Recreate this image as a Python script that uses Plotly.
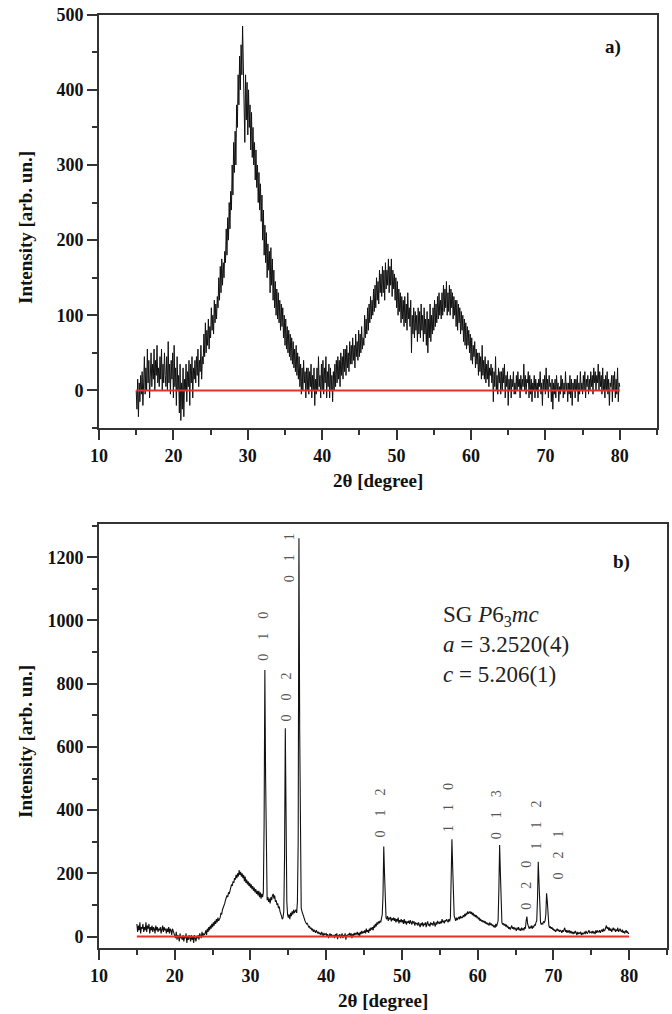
import numpy as np
import plotly.graph_objects as go

# ---------------- data ----------------
# 2theta grid (degrees), 0.1 degree steps from 15 to 80
two_theta = np.round(np.linspace(15.0, 80.0, 651), 1)

# panel a) intensity (arb. un.), one row per degree (15.0, 15.1, ... 15.9)
intensity_a = [
    0, -25, 15, -35, 10, -15, 20, -5, 25, -20,
    10, 45, -5, 30, 0, 55, 10, 40, -10, 25,
    50, 5, 35, 15, 55, 0, 40, 20, 60, 10,
    30, 5, 45, 15, 55, 0, 35, 10, 50, 20,
    5, 45, 0, 65, 10, 35, -5, 40, 15, 50,
    -10, 60, 5, 30, -20, 45, 0, 20, -30, 35,
    -40, 10, -25, 30, -35, 15, 0, 35, -15, 25,
    5, 40, -20, 35, 10, 45, -10, 30, 15, 40,
    10, 45, 20, 55, 5, 40, 25, 60, 15, 45,
    35, 75, 45, 90, 50, 80, 60, 95, 55, 85,
    70, 110, 80, 100, 75, 120, 90, 115, 95, 125,
    110, 150, 120, 165, 130, 175, 140, 170, 150, 185,
    170, 215, 180, 230, 200, 250, 215, 265, 240, 300,
    260, 330, 290, 345, 300, 380, 350, 420, 380, 445,
    400, 460, 420, 485, 430, 380, 330, 420, 360, 410,
    340, 400, 350, 380, 320, 370, 310, 350, 300, 330,
    280, 320, 270, 300, 250, 290, 240, 275, 225, 260,
    200, 240, 180, 220, 170, 210, 150, 195, 160, 185,
    130, 190, 140, 175, 120, 160, 110, 145, 100, 135,
    95, 130, 90, 120, 80, 115, 85, 110, 70, 100,
    60, 95, 55, 85, 50, 80, 45, 75, 40, 70,
    35, 65, 30, 55, 25, 60, 20, 50, 15, 45,
    5, 35, -5, 30, 0, 40, 10, 25, -10, 30,
    0, 30, -5, 25, 5, 35, -10, 20, 0, 30,
    -20, 15, -5, 30, 0, 45, 5, 20, -10, 35,
    0, 40, -5, 30, 10, 45, -10, 25, 5, 35,
    -10, 30, 0, 20, -15, 25, 0, 35, 5, 40,
    10, 45, 15, 40, 5, 50, 20, 45, 15, 55,
    25, 55, 20, 60, 30, 50, 25, 65, 35, 60,
    35, 70, 40, 60, 30, 75, 45, 65, 40, 80,
    45, 75, 50, 85, 55, 70, 60, 100, 70, 95,
    75, 110, 80, 115, 90, 125, 95, 120, 100, 135,
    105, 140, 110, 150, 120, 145, 115, 160, 130, 155,
    125, 165, 130, 160, 120, 170, 135, 160, 140, 175,
    130, 165, 140, 175, 125, 160, 135, 155, 120, 150,
    110, 145, 100, 135, 105, 130, 90, 125, 95, 120,
    85, 125, 90, 115, 80, 130, 95, 110, 85, 120,
    50, 100, 75, 110, 70, 105, 80, 100, 65, 110,
    75, 105, 70, 115, 80, 100, 65, 110, 75, 95,
    60, 105, 50, 95, 70, 115, 65, 100, 75, 110,
    80, 120, 85, 115, 90, 125, 95, 130, 100, 120,
    95, 130, 100, 140, 105, 135, 110, 145, 100, 130,
    105, 140, 100, 135, 110, 130, 95, 125, 100, 120,
    85, 120, 80, 115, 90, 110, 75, 105, 80, 100,
    65, 95, 60, 90, 55, 85, 60, 80, 50, 75,
    40, 70, 35, 60, 45, 65, 30, 55, 35, 50,
    20, 50, 25, 45, 15, 60, 20, 40, 15, 45,
    10, 35, 15, 40, 5, 30, 20, 35, 10, 30,
    -15, 25, 5, 45, 0, 20, -5, 30, 10, 25,
    -5, 25, 0, 30, 10, 35, -10, 20, 5, 25,
    -20, 15, 0, 20, -10, 15, 5, 25, -5, 10,
    -5, 20, 0, 25, 5, 15, -10, 20, 0, 15,
    5, 35, 0, 20, -5, 15, 10, 25, -10, 20,
    -5, 15, -15, 10, 0, 20, -10, 15, 0, 10,
    -10, 15, 5, 25, -5, 10, -20, 15, 0, 20,
    -5, 30, 0, 15, -10, 20, 5, 10, -15, 15,
    -25, 10, -5, 15, -10, 20, 0, 10, -15, 5,
    -5, 20, 0, 15, -10, 10, -5, 25, 0, 10,
    -15, 10, -5, 20, -10, 15, -20, 10, 0, 15,
    -10, 15, 0, 20, -15, 10, -5, 25, 0, 10,
    -5, 20, 0, 25, -10, 15, 5, 20, -5, 15,
    0, 25, 5, 20, -5, 30, 10, 25, 0, 20,
    10, 35, 0, 25, 5, 20, -5, 30, 0, 15,
    -10, 20, 0, 25, -5, 15, -20, 10, 5, 20,
    -15, 20, 0, 25, -10, 15, -5, 30, -15, 10,
    5,
]

# panel b) intensity (arb. un.), same grid
intensity_b = [
    40, 15, 35, 20, 45, 10, 30, 25, 40, 15,
    30, 20, 45, 15, 35, 25, 40, 10, 30, 20,
    35, 15, 30, 25, 10, 35, 20, 30, 15, 25,
    20, 30, 10, 25, 35, 15, 30, 20, 25, 10,
    25, 15, 30, 10, 25, 20, 5, 25, 15, 10,
    5, -5, 15, -10, 5, 0, -15, 10, -5, 0,
    -10, 5, -15, 0, -5, 10, -20, 0, -10, 5,
    -5, -15, 5, -10, 0, -20, 5, -5, -15, 0,
    -5, 5, -10, 10, 0, -5, 15, 0, 10, 5,
    10, 20, 5, 25, 15, 30, 20, 35, 25, 40,
    30, 45, 35, 50, 40, 55, 45, 60, 50, 55,
    60, 75, 70, 85, 90, 100, 105, 115, 120, 130,
    125, 140, 135, 150, 155, 165, 160, 175, 170, 185,
    180, 195, 185, 200, 190, 210, 195, 205, 190, 200,
    185, 195, 175, 190, 170, 180, 165, 175, 160, 170,
    155, 165, 150, 160, 145, 155, 140, 150, 135, 145,
    130, 145, 125, 140, 120, 135, 125, 140, 350, 843,
    500, 150, 115, 125, 110, 120, 105, 125, 115, 130,
    135, 120, 130, 110, 115, 100, 105, 90, 95, 80,
    75, 65, 55, 60, 80, 250, 659, 350, 110, 70,
    60, 70, 55, 75, 65, 80, 70, 85, 75, 80,
    85, 75, 110, 300, 1260, 650, 150, 90, 80, 70,
    60, 55, 50, 45, 40, 42, 35, 30, 32, 25,
    28, 20, 25, 15, 22, 18, 12, 20, 15, 10,
    15, 8, 12, 5, 15, 10, 2, 12, 5, 8,
    10, 0, 8, -5, 5, 10, -2, 8, 0, 5,
    5, -5, 8, 0, 10, -8, 5, 0, 8, -5,
    3, 10, -5, 5, 0, 10, -10, 5, 0, 8,
    5, 12, 0, 10, -5, 8, 2, 12, 5, 10,
    8, 15, 5, 12, 0, 15, 8, 18, 10, 15,
    12, 20, 10, 25, 15, 20, 12, 25, 18, 28,
    22, 30, 20, 35, 28, 40, 32, 45, 38, 48,
    42, 50, 45, 55, 70, 130, 285, 200, 80, 60,
    55, 65, 50, 60, 55, 62, 48, 58, 52, 60,
    50, 58, 45, 55, 48, 60, 42, 52, 46, 55,
    45, 52, 40, 55, 42, 50, 38, 48, 44, 50,
    40, 52, 45, 38, 50, 42, 48, 35, 45, 40,
    42, 35, 45, 38, 30, 42, 36, 45, 32, 40,
    38, 45, 30, 42, 48, 35, 40, 32, 45, 38,
    42, 35, 48, 40, 32, 45, 38, 50, 42, 45,
    40, 48, 42, 55, 45, 50, 42, 52, 48, 55,
    50, 45, 55, 48, 60, 150, 308, 220, 90, 65,
    58, 50, 60, 52, 58, 62, 55, 65, 58, 62,
    60, 68, 62, 72, 65, 75, 70, 80, 72, 78,
    80, 72, 78, 68, 75, 65, 70, 62, 68, 60,
    62, 55, 60, 50, 56, 48, 52, 45, 50, 45,
    48, 40, 45, 38, 42, 35, 45, 38, 40, 35,
    38, 30, 35, 28, 40, 32, 38, 50, 150, 290,
    200, 70, 45, 38, 42, 35, 40, 32, 38, 30,
    32, 25, 30, 22, 28, 35, 25, 30, 22, 28,
    25, 18, 28, 22, 30, 20, 25, 18, 28, 22,
    25, 20, 30, 25, 50, 63, 40, 28, 25, 30,
    28, 35, 25, 32, 30, 38, 35, 45, 50, 120,
    237, 170, 60, 45, 38, 42, 40, 48, 45, 50,
    70, 137, 110, 45, 35, 28, 32, 25, 30, 22,
    25, 18, 22, 15, 20, 25, 18, 22, 15, 20,
    18, 12, 20, 15, 22, 28, 15, 20, 12, 18,
    15, 20, 10, 18, 12, 15, 8, 15, 10, 18,
    12, 5, 15, 8, 12, 10, 15, 5, 12, 8,
    10, 15, 8, 18, 12, 10, 15, 20, 12, 15,
    15, 10, 18, 12, 15, 8, 20, 12, 18, 15,
    15, 20, 12, 18, 22, 15, 25, 18, 20, 28,
    35, 25, 30, 20, 28, 18, 25, 15, 22, 28,
    20, 25, 15, 22, 18, 28, 15, 20, 25, 18,
    15, 22, 12, 18, 10, 15, 20, 12, 15, 10,
    10,
]

# fitted background (red line)
baseline_x = [15, 80]
baseline_y = [0, 0]

# tick labels
x_ticks = [10, 20, 30, 40, 50, 60, 70, 80]
y_ticks_a = [0, 100, 200, 300, 400, 500]
y_ticks_b = [0, 200, 400, 600, 800, 1000, 1200]

# Miller indices of the reflections
hkl_labels = ["0 1 0", "0 0 2", "0 1 1", "0 1 2", "1 1 0", "0 1 3", "0 2 0", "1 1 2", "0 2 1"]

# ---------------- figure ----------------
W, H = 672, 1014
SERIF = "Liberation Serif"
AXCOL = "#333333"

fig = go.Figure()
fig.add_trace(go.Scatter(x=two_theta, y=intensity_a, mode="lines",
                         line=dict(color="#111111", width=1), xaxis="x", yaxis="y",
                         showlegend=False))
fig.add_trace(go.Scatter(x=baseline_x, y=baseline_y, mode="lines",
                         line=dict(color="#e3302a", width=2), xaxis="x", yaxis="y",
                         showlegend=False))
fig.add_trace(go.Scatter(x=two_theta, y=intensity_b, mode="lines",
                         line=dict(color="#111111", width=1.1), xaxis="x2", yaxis="y2",
                         showlegend=False))
fig.add_trace(go.Scatter(x=baseline_x, y=baseline_y, mode="lines",
                         line=dict(color="#e3302a", width=2), xaxis="x2", yaxis="y2",
                         showlegend=False))

tickfont = dict(family=SERIF, size=18, color="#111111", weight="bold")


def xaxis_style(domain, anchor):
    return dict(domain=domain, anchor=anchor, range=[10, 85], tickvals=x_ticks,
                ticks="outside", ticklen=10, tickwidth=1.5, tickcolor=AXCOL,
                showline=True, linecolor=AXCOL, linewidth=2, mirror=True,
                showgrid=False, zeroline=False, tickfont=tickfont,
                minor=dict(dtick=5, tick0=0, ticks="outside", ticklen=5,
                           tickwidth=1.5, tickcolor=AXCOL, showgrid=False))


def yaxis_style(domain, anchor, rng, tv, minor_dtick):
    return dict(domain=domain, anchor=anchor, range=rng, tickvals=tv,
                ticks="outside", ticklen=10, tickwidth=1.5, tickcolor=AXCOL,
                showline=True, linecolor=AXCOL, linewidth=2, mirror=True,
                showgrid=False, zeroline=False, tickfont=tickfont,
                minor=dict(dtick=minor_dtick, tick0=0, ticks="outside", ticklen=5,
                           tickwidth=1.5, tickcolor=AXCOL, showgrid=False))


fig.update_layout(
    width=W, height=H,
    margin=dict(l=0, r=0, t=0, b=0, autoexpand=False),
    paper_bgcolor="white", plot_bgcolor="white",
    xaxis=xaxis_style([99 / W, 657 / W], "y"),
    yaxis=yaxis_style([1 - 428 / H, 1 - 14.7 / H], "x", [-50, 500], y_ticks_a, 50),
    xaxis2=xaxis_style([99 / W, 667 / W], "y2"),
    yaxis2=yaxis_style([1 - 948.3 / H, 1 - 524 / H], "x2", [-37, 1305], y_ticks_b, 100),
)

title_font = dict(family=SERIF, size=19, color="#111111", weight="bold")
ann = []
# axis titles
ann.append(dict(text="2θ [degree]", x=378 / W, y=1 - 480 / H, xref="paper", yref="paper",
                showarrow=False, font=title_font, xanchor="center", yanchor="middle"))
ann.append(dict(text="2θ [degree]", x=383 / W, y=1 - 1000 / H, xref="paper", yref="paper",
                showarrow=False, font=title_font, xanchor="center", yanchor="middle"))
ann.append(dict(text="Intensity [arb. un.]", x=25 / W, y=1 - 228 / H, xref="paper",
                yref="paper", showarrow=False, font=title_font, textangle=-90,
                xanchor="center", yanchor="middle"))
ann.append(dict(text="Intensity [arb. un.]", x=25 / W, y=1 - 742 / H, xref="paper",
                yref="paper", showarrow=False, font=title_font, textangle=-90,
                xanchor="center", yanchor="middle"))
# panel labels
ann.append(dict(text="a)", x=613 / W, y=1 - 47 / H, xref="paper", yref="paper",
                showarrow=False, font=title_font, xanchor="center", yanchor="middle"))
ann.append(dict(text="b)", x=621 / W, y=1 - 562 / H, xref="paper", yref="paper",
                showarrow=False, font=title_font, xanchor="center", yanchor="middle"))
# cell parameters
ann.append(dict(text="SG <i>P</i>6<sub>3</sub><i>mc</i><br><i>a</i> = 3.2520(4)<br><i>c</i> = 5.206(1)",
                x=441 / W, y=1 - 644 / H, xref="paper", yref="paper", showarrow=False,
                font=dict(family=SERIF, size=23, color="#222222"), align="left",
                xanchor="left", yanchor="middle"))

# hkl label placements (data coordinates of panel b)
hkl_pos = [(31.76, 951), (34.76, 758), (35.15, 1198), (47.18, 391), (56.21, 410),
           (62.6, 385), (66.34, 163), (67.89, 353), (70.7, 259)]
for lab, (hx, hy) in zip(hkl_labels, hkl_pos):
    ann.append(dict(text=lab.replace(" ", "\u2003"), x=hx, y=hy, xref="x2", yref="y2",
                    showarrow=False, textangle=-90,
                    font=dict(family=SERIF, size=14, color="#555555"),
                    xanchor="center", yanchor="middle"))

fig.update_layout(annotations=ann)
fig.write_html(
    "out.html",
    config={"displayModeBar": False},
    post_script="document.body.style.margin='0px';document.body.style.overflow='hidden';",
)
